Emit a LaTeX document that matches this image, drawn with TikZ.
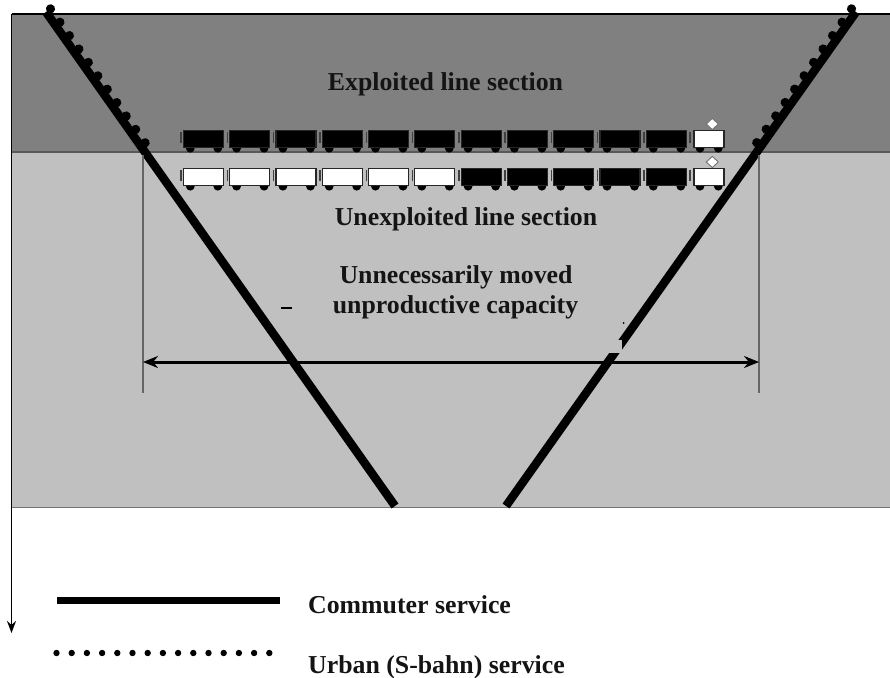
\documentclass[tikz,border=0pt]{standalone}
\usepackage{fontspec}
\setmainfont{Liberation Serif}
\usetikzlibrary{arrows.meta,decorations.markings}
\definecolor{bandDark}{HTML}{808080}
\definecolor{bandLight}{HTML}{C0C0C0}
\newcommand{\wagon}[3]{%
  \draw[line width=1.4pt, black!75] (#1-2.3,#2+1.3) -- (#1-2.3,#2+12.7);
  \fill[black] (#1+7,#2+17.5) circle[radius=4.4pt];
  \fill[black] (#1+34.5,#2+17.5) circle[radius=4.4pt];
  \filldraw[fill=#3, draw=black!85, line width=1.2pt] (#1,#2) rectangle (#1+40,#2+16.5);
}
\newcommand{\locomotive}[2]{%
  \draw[line width=1.4pt, black!75] (#1-4,#2+1.3) -- (#1-4,#2+12.7);
  \fill[black] (#1+6,#2+17.5) circle[radius=4.4pt];
  \fill[black] (#1+24.3,#2+17.5) circle[radius=4.4pt];
  \filldraw[fill=white, draw=black!85, line width=1.2pt] (#1,#2) rectangle (#1+30,#2+16.5);
  \filldraw[fill=white, draw=black!55, line width=0.9pt] (#1+18.3,#2-12.3) -- (#1+24.3,#2-6.7) -- (#1+18.3,#2-1.1) -- (#1+12.3,#2-6.7) -- cycle;
}
\begin{document}
\begin{tikzpicture}[x=1pt,y=-1pt,
  lbl/.style={font=\fontsize{25.8}{30}\selectfont\bfseries, text=black!92, inner sep=0pt},
  service/.style={line width=8.5pt, black},
  tick/.style={line width=1.4pt, black!60},
  dotsinside/.style={postaction={decorate, decoration={markings,
      mark=between positions 0pt and 166pt step 16.4pt with {\fill[black] (0pt,#1) circle[radius=4.6pt];}}}}]
\useasboundingbox (0,0) rectangle (890,677);
\fill[white] (0,0) rectangle (890,677);
% bands
\fill[bandDark] (11.5,14) rectangle (890,152);
\fill[bandLight] (11.5,152) rectangle (890,507);
\draw[line width=1.3pt, black!65] (11.5,152) -- (890,152);
\draw[line width=1.3pt, black!55] (11.5,507.5) -- (890,507.5);
% axis and top border
\coordinate (tb1) at (11.5,14);
\coordinate (tb2) at (890,14);
\coordinate (ax2) at (11.5,633);
\draw[line width=2.2pt] (tb1) -- (tb2);
\draw[line width=1.8pt, -{Stealth[length=12pt,width=9pt]}] (tb1) -- (ax2);
% diagonal service lines
\coordinate (Lt) at (46,12);
\coordinate (Lb) at (395,506);
\coordinate (Rt) at (856,12);
\coordinate (Rb) at (506,506);
\draw[service, dotsinside=5.5pt] (Lt) -- (Lb);
\draw[service, dotsinside=-5.5pt] (Rt) -- (Rb);
% artifacts
\fill[bandLight] (598,340) rectangle (621.7,353);
\fill[black] (623.5,323) circle[radius=1pt];
\draw[line width=1.4pt] (281,308) -- (292,308);
% trains
\foreach \i in {0,...,10} {
  \pgfmathsetmacro{\xx}{183.3+46.3*\i}
  \wagon{\xx}{130.7}{black}
}
\locomotive{694}{130.7}
\foreach \i in {0,...,5} {
  \pgfmathsetmacro{\xx}{183.3+46.3*\i}
  \wagon{\xx}{168.7}{white}
}
\foreach \i in {6,...,10} {
  \pgfmathsetmacro{\xx}{183.3+46.3*\i}
  \wagon{\xx}{168.7}{black}
}
\locomotive{694}{168.7}
% dimension arrow
\coordinate (T1a) at (143,155);
\coordinate (T1b) at (143,393);
\coordinate (T2a) at (759,155);
\coordinate (T2b) at (759,393);
\draw[tick] (T1a) -- (T1b);
\draw[tick] (T2a) -- (T2b);
\coordinate (AL) at (143,362);
\coordinate (AR) at (759,362);
\draw[line width=3pt, {Stealth[length=15pt,width=12pt]}-{Stealth[length=15pt,width=12pt]}] (AL) -- (AR);
% labels
\node[lbl, anchor=base] (exp) at (445.5,90) {Exploited line section};
\node[lbl, anchor=base] (unexp) at (466,225) {Unexploited line section};
\node[lbl, anchor=base] (un1) at (456,283) {Unnecessarily moved};
\node[lbl, anchor=base] (un2) at (455.5,313) {unproductive capacity};
% legend
\coordinate (c1) at (57,600.5);
\coordinate (c2) at (280,600.5);
\draw[line width=7.5pt] (c1) -- (c2);
\foreach \i in {0,...,14} \fill[black] (56.5+15.2*\i,653) circle[radius=3.2pt];
\node[lbl, anchor=base west] (comm) at (308,613) {Commuter service};
\node[lbl, anchor=base west] (urb) at (308,673) {Urban (S-bahn) service};
\end{tikzpicture}
\end{document}
